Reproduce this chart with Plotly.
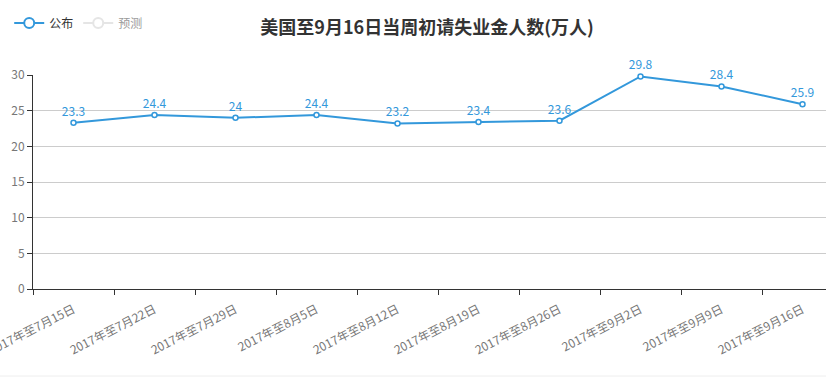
import plotly.graph_objects as go

categories = ["2017年至7月15日", "2017年至7月22日", "2017年至7月29日", "2017年至8月5日",
              "2017年至8月12日", "2017年至8月19日", "2017年至8月26日", "2017年至9月2日",
              "2017年至9月9日", "2017年至9月16日"]
published = [23.3, 24.4, 24, 24.4, 23.2, 23.4, 23.6, 29.8, 28.4, 25.9]
forecast = [None] * len(categories)
title_text = "美国至9月16日当周初请失业金人数(万人)"

blue = "#3398DB"
font_family = "Noto Sans CJK SC, Noto Sans, sans-serif"

fig = go.Figure()
fig.add_trace(go.Scatter(
    x=categories, y=published, name="公布", legendgroup="pub", showlegend=False,
    mode="lines+markers+text",
    line=dict(color=blue, width=2),
    marker=dict(symbol="circle", size=5, color="white", line=dict(color=blue, width=1.5)),
    text=[f"{v:g}" for v in published], textposition="top center",
    textfont=dict(color=blue, size=12, family=font_family),
    cliponaxis=False,
))
# legend entries
fig.add_trace(go.Scatter(
    x=[categories[0]], y=[None], name="公布", legendgroup="pub", showlegend=True,
    mode="lines+markers",
    line=dict(color=blue, width=2),
    marker=dict(symbol="circle", size=10, color="white", line=dict(color=blue, width=2)),
))
fig.add_trace(go.Scatter(
    x=categories, y=forecast, name="预测",
    mode="lines+markers", visible="legendonly",
    line=dict(color="#cccccc", width=2),
    marker=dict(symbol="circle", size=10, color="white", line=dict(color="#cccccc", width=2)),
))

fig.update_layout(
    width=826, height=387,
    margin=dict(l=33, r=0, t=75, b=98, autoexpand=False),
    paper_bgcolor="white", plot_bgcolor="white",
    font=dict(family=font_family, size=12, color="#333"),
    title=dict(text=f"<b>{title_text}</b>", xref="container", yref="container",
               x=0.517, y=1 - 28 / 387,
               xanchor="center", yanchor="middle",
               font=dict(size=18, color="#333", family=font_family)),
    legend=dict(orientation="h", x=-0.03, y=1 + 52 / 214, xanchor="left", yanchor="middle",
                font=dict(size=12, color="#333"),
                bgcolor="rgba(0,0,0,0)"),
    showlegend=True,
    xaxis=dict(
        type="category", categoryorder="array", categoryarray=categories,
        range=[-0.5, -0.5 + 793 / 81], tickson="boundaries",
        ticks="outside", ticklen=5, tickcolor="#333",
        showline=True, linecolor="#333", linewidth=1,
        showgrid=False, zeroline=False, tickangle=-27,
        tickfont=dict(size=12, color="#777"),
        automargin=False, ticklabeloverflow="allow", ticklabelstandoff=8,
    ),
    yaxis=dict(
        range=[0, 30], dtick=5, ticks="outside", ticklen=5, tickcolor="#333",
        showline=True, linecolor="#333", linewidth=1,
        showgrid=True, gridcolor="#cccccc", gridwidth=1, zeroline=False,
        tickfont=dict(size=12, color="#777"), automargin=False,
    ),
    shapes=[dict(type="line", xref="paper", yref="paper",
                 x0=-33 / 793, x1=1, y0=(289 - 376) / 214, y1=(289 - 376) / 214,
                 line=dict(color="#eeeeee", width=1))],
)

fig.write_html("out.html", config={"displayModeBar": False},
               post_script="document.body.style.margin='0';document.body.style.overflow='hidden';")
